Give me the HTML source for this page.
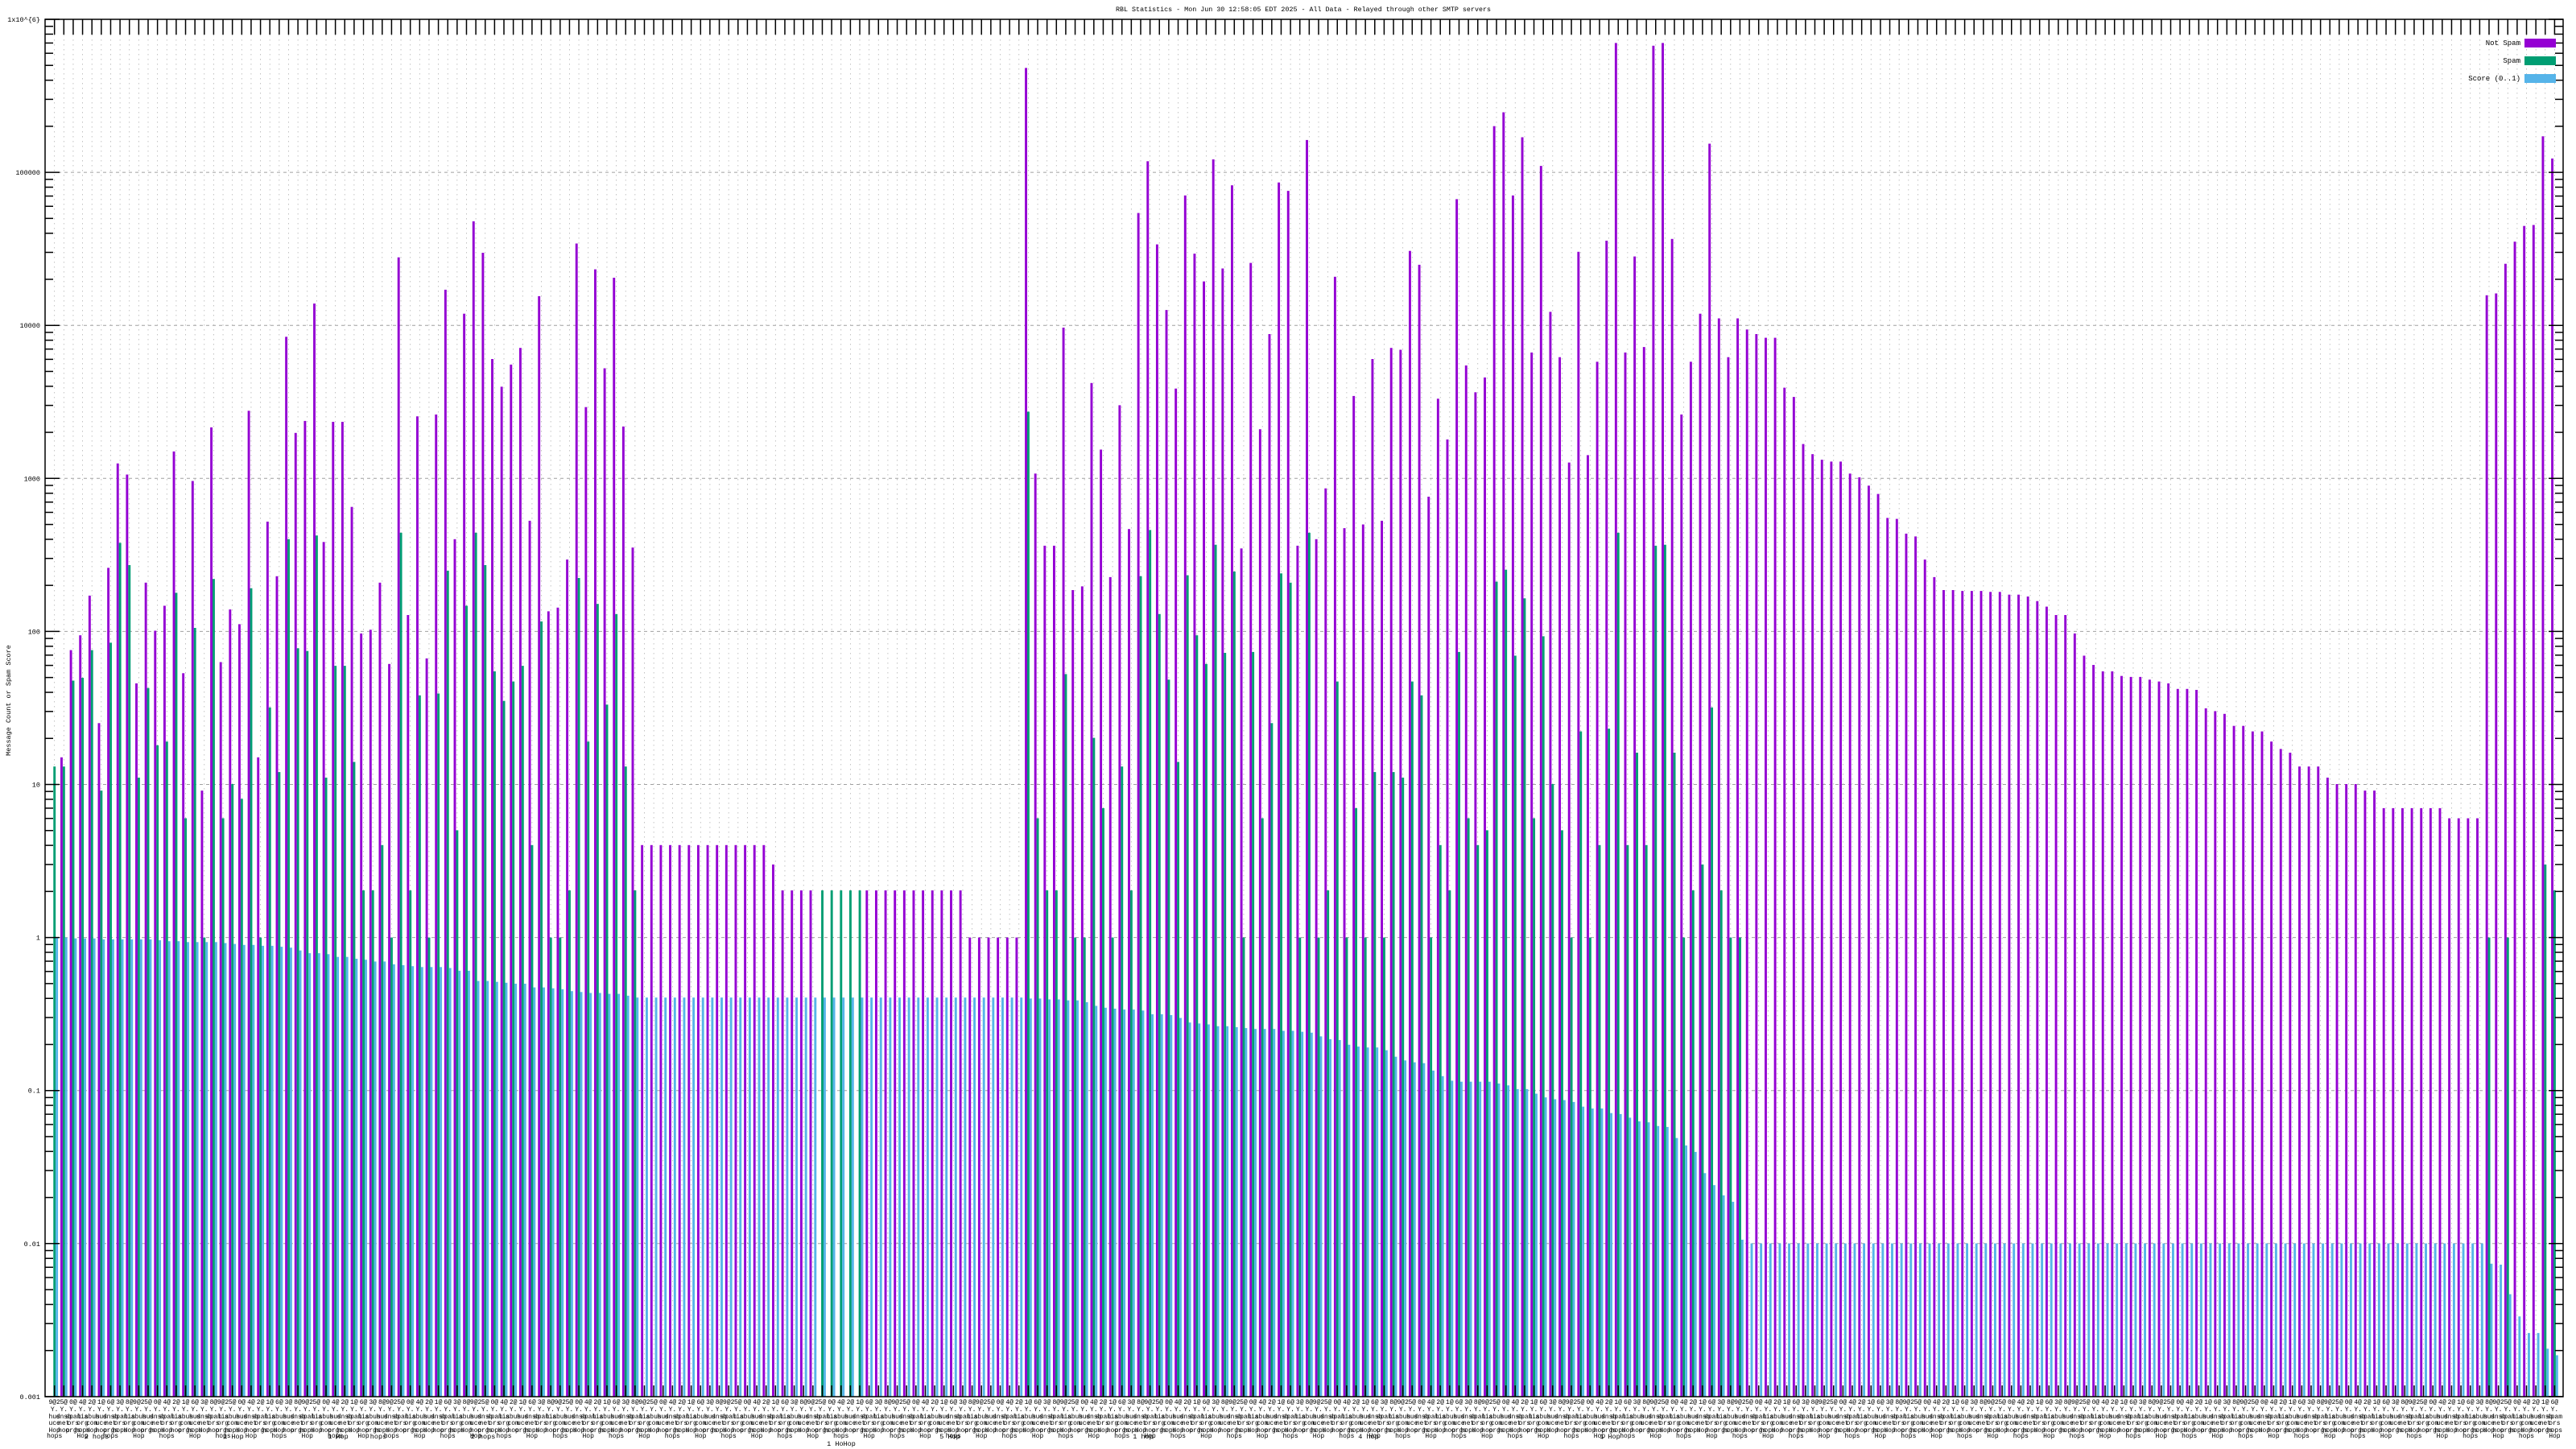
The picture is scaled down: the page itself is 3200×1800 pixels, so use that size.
<!DOCTYPE html>
<html><head><meta charset="utf-8">
<style>
html,body{margin:0;padding:0;background:#fff;}
svg{display:block;}
text{font-family:"Liberation Mono","DejaVu Sans Mono",monospace;fill:#000;}
</style></head>
<body>
<svg id="c" xmlns="http://www.w3.org/2000/svg" width="3200" height="1800" viewBox="0 0 3200 1800"></svg>
<script>
var N=268;
function rep(v,n){var a=[];for(var i=0;i<n;i++)a.push(v);return a;}
var P=[null,820,704,688,645,783,615,502,514,740,631,683,656,489,729,521,856,463,717,660,676,445,820,565,624,365,469,456,329,587,457,457,549,686,682,631,719,279,666,451,713,449,314,584,340,
240,274,389,419,395,377,564,321,662,658,606,264,441,292,399,301,462,593].concat(rep(915,14),[936],rep(964,4),rep(null,5),rep(964,4),rep(964,7),rep(1015,6),
[74,513,591,591,355,639,635,415,487,625,439,573,231,175,265,336,421,212,275,305,173,291,201,594,285,465,362,198,207,591,152,584,529,
300,572,429,568,389,564,377,379,272,287,538,432,476,216,396,425,409,137,122,212,149,382,180,338,387,501,273,493,392,261,47,382,278,376,50,47,259,449,392,340,156,345,387,345,357,362,
366,366,420,430,481,492,498,500,500,513,517,526,535,561,562,578,581,606,625,639,639,640,640,640,641,641,644,644,646,651,657,666,666,686,710,720,727,727,732,733,733,736,738,740,746,746,
747,767,770,773,786,786,792,792,803,811,815,830,830,830,842,849,849,849,856,856,875,875,875,875,875,875,875,886,886,886,886,320,318,286,262,245,244,148,172]);
var G=[830,830,737,734,704,856,696,588,612,842,745,807,803,642,886,680,1015,627,886,849,865,637,1015,766,836,584,702,705,580,842,721,721,825,964,964,915,1015,577,964,753,1015,751,618,899,656,
577,612,727,759,738,721,915,673,1015,1015,964,626,803,654,763,665,830,964].concat(rep(null,19),rep(964,5),rep(null,17),
[446,886,964,964,730,1015,1015,799,875,1015,830,964,624,574,665,736,825,623,688,719,590,707,619,1015,706,886,783,621,631,1015,577,1015,964,
738,1015,875,1015,836,1015,836,842,738,753,1015,915,964,706,886,915,899,630,617,710,648,886,689,849,899,1015,792,1015,915,789,577,915,815,915,591,590,815,1015,964,936,766,964,1015,1015]);
while(G.length<N)G.push(null);
G[260]=1015;G[262]=1015;G[266]=936;G[267]=964;
var B=[1015,1015,1016,1016,1016,1017,1017,1017,1017,1017,1017,1018,1019,1019,1020,1020,1020,1020,1021,1022,1023,1023,1024,1024,1025,1026,1029,1032,1032,1033,1036,1036,1038,1039,1041,1041,1044,1045,1046,1047,1047,1047,1048,1051,1051,
1062,1062,1063,1064,1065,1065,1069,1069,1070,1071,1073,1074,1075,1075,1076,1076,1078,1080].concat(rep(1080,41),
[1081,1081,1082,1082,1083,1083,1085,1089,1091,1092,1093,1093,1094,1098,1098,1099,1102,1107,1108,1109,1111,1111,1112,1113,1114,1114,1114,1116,1116,1117,1118,1122,1125,
1126,1131,1133,1134,1134,1137,1144,1148,1150,1151,1159,1165,1170,1171,1171,1171,1171,1173,1175,1179,1179,1184,1188,1190,1191,1193,1198,1200,1200,1205,1206,1210,1214,1215,1219,1220,1232,1240,1247,1270,1283,1294,1301,1342,1346],
rep(1346,78),[1368,1369,1401,1425,1443,1443,1460,1467]);
var L=56,R=3184,T=24,BOT=1735,DEC=190.1;
function yOf(d){var l=(1015-d)/165.6;return T+(6-l)*DEC;}
function yv(v){return T+(6-Math.log10(v))*DEC;}
var s=[];
for(var e=-2;e<=5;e++){var y=yv(Math.pow(10,e));s.push('<line x1="'+L+'" x2="'+R+'" y1="'+y+'" y2="'+y+'" stroke="#a0a0a0" stroke-width="1" stroke-dasharray="4,4"/>');}
function px(i){return 75+11.632*(i-1);}
for(var i=0;i<N;i++){var c=px(i)+4.3;
s.push('<line x1="'+c+'" x2="'+c+'" y1="43" y2="'+BOT+'" stroke="#b4b4b4" stroke-width="0.8" stroke-dasharray="1.5,4.5"/>');}
var cols=['#9400d3','#009e73','#56b4e9'];
for(var i=0;i<N;i++){var p=px(i);var arr=[P[i],G[i],B[i]];
for(var k=0;k<3;k++){var d=arr[k];if(d==null||d===undefined)continue;var y=yOf(d);
s.push('<rect x="'+(p+k*2.9)+'" y="'+y.toFixed(1)+'" width="2.9" height="'+(BOT-y).toFixed(1)+'" fill="'+cols[k]+'"/>');}}
for(var i=0;i<N;i++){var c=px(i)+4.3;
s.push('<line x1="'+c+'" x2="'+c+'" y1="'+T+'" y2="43" stroke="#000" stroke-width="1.5"/>');
s.push('<line x1="'+c+'" x2="'+c+'" y1="'+(BOT-14)+'" y2="'+BOT+'" stroke="#000" stroke-width="1.5"/>');}
var labs=["1x10^{6}","100000","10000","1000","100","10","1","0.1","0.01","0.001"];
for(var e=6;e>=-3;e--){var y=yv(Math.pow(10,e));
s.push('<line x1="'+L+'" x2="'+(L+18)+'" y1="'+y+'" y2="'+y+'" stroke="#000" stroke-width="1.5"/>');
s.push('<line x1="'+(R-18)+'" x2="'+R+'" y1="'+y+'" y2="'+y+'" stroke="#000" stroke-width="1.5"/>');
s.push('<text x="50" y="'+(y+3)+'" font-size="8.5" text-anchor="end">'+labs[6-e]+'</text>');
if(e>-3){for(var m=2;m<=9;m++){var ym=yv(Math.pow(10,e-1)*m);
s.push('<line x1="'+L+'" x2="'+(L+10)+'" y1="'+ym+'" y2="'+ym+'" stroke="#000" stroke-width="1.5"/>');
s.push('<line x1="'+(R-10)+'" x2="'+R+'" y1="'+ym+'" y2="'+ym+'" stroke="#000" stroke-width="1.5"/>');}}}
s.push('<rect x="'+L+'" y="'+T+'" width="'+(R-L)+'" height="'+(BOT-T)+'" fill="none" stroke="#000" stroke-width="1.5"/>');
s.push('<text x="1386" y="14" font-size="8.5" textLength="466" lengthAdjust="spacingAndGlyphs">RBL Statistics - Mon Jun 30 12:58:05 EDT 2025 - All Data - Relayed through other SMTP servers</text>');
s.push('<text transform="translate(13,870) rotate(-90)" font-size="8.5" text-anchor="middle">Message Count or Spam Score</text>');
var lg=[["Not Spam",48],["Spam",70],["Score (0..1)",92]];
for(var k=0;k<3;k++){s.push('<text x="3131" y="'+(lg[k][1]+8)+'" font-size="9" text-anchor="end">'+lg[k][0]+'</text>');
s.push('<rect x="3136" y="'+lg[k][1]+'" width="39" height="11" fill="'+cols[k]+'"/>');}
var r1=["9@2","2@","8@","4@","3@","0@","6@","5@","1@"],r2=["zen","bl","b.","Y.","sb","cb","ps"],r3=["spam","hus","lis","dnsb","abus"],r4=["org","net","com","ors","uce"],r5=["Hop","hops","orgs","hop"];
var rows=[[1741,r1],[1750,r2],[1759,r3],[1767,r4],[1776,r5]];
for(var i=0;i<N;i++){var c=px(i)+4.3;
for(var r=0;r<rows.length;r++){var w=rows[r][1][(i*7+r*3)%rows[r][1].length];
s.push('<text x="'+c+'" y="'+(rows[r][0]+3)+'" font-size="8" text-anchor="middle">'+w+'</text>');}
if(i%3==0){s.push('<text x="'+c+'" y="1786" font-size="8" text-anchor="middle">'+(i%2?"Hop":"hops")+'</text>');}}
var g6=[[120,"2 hops"],[290,"1 Hop"],[420,"1 Hop"],[470,"hops"],[600,"2 hops"],[1180,"5 Hop"],[1420,"1 hop"],[1700,"4 hop"],[2000,"1 Hop"]];
for(var k=0;k<g6.length;k++)s.push('<text x="'+g6[k][0]+'" y="1787" font-size="8.5" text-anchor="middle">'+g6[k][1]+'</text>');
s.push('<text x="1045" y="1796" font-size="8.5" text-anchor="middle">1 HoHop</text>');
document.getElementById('c').innerHTML=s.join('');
</script>
</body></html>
